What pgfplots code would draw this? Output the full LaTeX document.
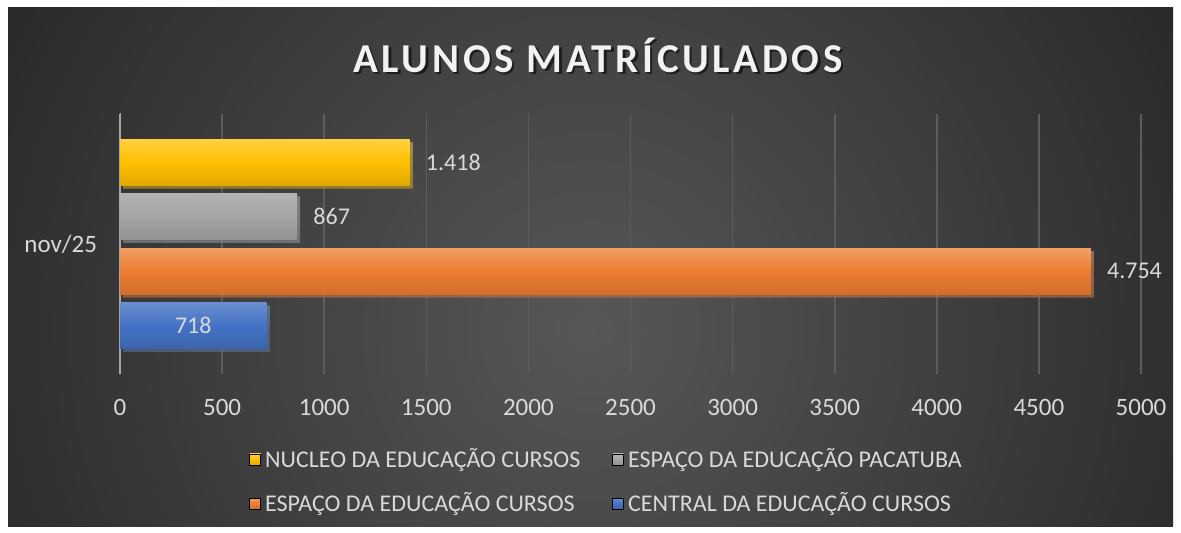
\documentclass[border=0pt]{standalone}
\usepackage{pgfplots}
\pgfplotsset{compat=1.18}
\usepackage{fontspec}
\setmainfont{Carlito}
\newfontfamily\titlefont[LetterSpace=9]{Carlito}
\usetikzlibrary{shadows}
\definecolor{bgin}{HTML}{575757}
\definecolor{bgout}{HTML}{262626}
\definecolor{txt}{HTML}{D9D9D9}
\definecolor{gridc}{HTML}{5C5C5C}
\definecolor{axc}{HTML}{A6A6A6}
\definecolor{ylw}{HTML}{FFC000}
\definecolor{gry}{HTML}{A5A5A5}
\definecolor{org}{HTML}{ED7D31}
\definecolor{blu}{HTML}{4472C4}

\begin{document}
\begin{tikzpicture}
% background, 1 unit = 1 px of the reference
\begin{scope}[x=0.5pt,y=-0.5pt]
\fill[white] (0,0) rectangle (1181,533);
\begin{scope}
\clip (8,8) rectangle (1173,526);
\fill[bgout] (8,8) rectangle (1173,526);
\shade[inner color=bgin, outer color=bgout] (590,330) circle (720);
\end{scope}
\node[font=\titlefont\bfseries\fontsize{20.5}{24}\selectfont, text=black, opacity=0.55] at (600.5,57.5) {ALUNOS MATRÍCULADOS};
\node[font=\titlefont\bfseries\fontsize{20.5}{24}\selectfont, text=white!95!black] at (598,55) {ALUNOS MATRÍCULADOS};
\end{scope}

\begin{axis}[
  at={(60pt,-187pt)}, anchor=south west,
  width=510.5pt, height=130pt, scale only axis,
  xbar, bar width=23pt,
  xmin=0, xmax=5000, ymin=-1, ymax=1,
  xtick={0,500,...,5000},
  ytick={0}, yticklabels={nov/25},
  axis lines*=left,
  x axis line style={draw=none},
  y axis line style={draw=axc, line width=1pt},
  major tick length=0pt,
  xmajorgrids, major grid style={gridc, line width=0.8pt},
  /pgf/number format/assume math mode=true,
  tick label style={font=\fontsize{12.5}{15}\selectfont, text=txt},
  x tick label style={/pgf/number format/1000 sep={}, yshift=-9pt},
  y tick label style={xshift=-8pt},
  point meta=x,
  nodes near coords={\pgfmathprintnumber[fixed,precision=0,1000 sep={.}]{\pgfplotspointmeta}},
  every node near coord/.append style={font=\fontsize{12}{14}\selectfont, text=txt, anchor=west, inner sep=0pt, xshift=8pt},
  legend columns=2,
  legend style={at={(61.5pt,-33pt)}, anchor=north west, draw=none, fill=none,
    font=\fontsize{12}{14}\selectfont, text=txt, row sep=7pt,
    /tikz/every even column/.append style={column sep=14pt}},
  legend cell align=left,
  legend image code/.code={\fill[#1] (0pt,-2.75pt) rectangle (5.5pt,2.75pt);},
  shadowed/.style={draw=none, forget plot,
    drop shadow={opacity=0.4, shadow xshift=1.5pt, shadow yshift=-1.5pt}},
]
\addlegendimage{top color=ylw!75!white, bottom color=ylw!88!black, middle color=ylw}
\addlegendimage{top color=gry!85!white, bottom color=gry!88!black, middle color=gry}
\addlegendimage{top color=org!75!white, bottom color=org!88!black, middle color=org}
\addlegendimage{top color=blu!80!white, bottom color=blu!88!black, middle color=blu}
\addplot[shadowed, top color=ylw!75!white, bottom color=ylw!88!black, middle color=ylw, bar shift=40.875pt]
  coordinates {(1418,0)};
\addplot[shadowed, top color=gry!85!white, bottom color=gry!88!black, middle color=gry, bar shift=13.625pt]
  coordinates {(867,0)};
\addplot[shadowed, top color=org!75!white, bottom color=org!88!black, middle color=org, bar shift=-13.625pt]
  coordinates {(4754,0)};
\addplot[shadowed, top color=blu!80!white, bottom color=blu!88!black, middle color=blu, bar shift=-40.875pt,
  every node near coord/.append style={anchor=center, xshift=-44.65pt}]
  coordinates {(718,0)};
\legend{NUCLEO DA EDUCAÇÃO CURSOS, ESPAÇO DA EDUCAÇÃO PACATUBA, ESPAÇO DA EDUCAÇÃO CURSOS, CENTRAL DA EDUCAÇÃO CURSOS}
\draw[axc, line width=1pt] (axis cs:0,1) -- ++(-3.5pt,0) (axis cs:0,-1) -- ++(-3.5pt,0);
\end{axis}
\end{tikzpicture}
\end{document}
